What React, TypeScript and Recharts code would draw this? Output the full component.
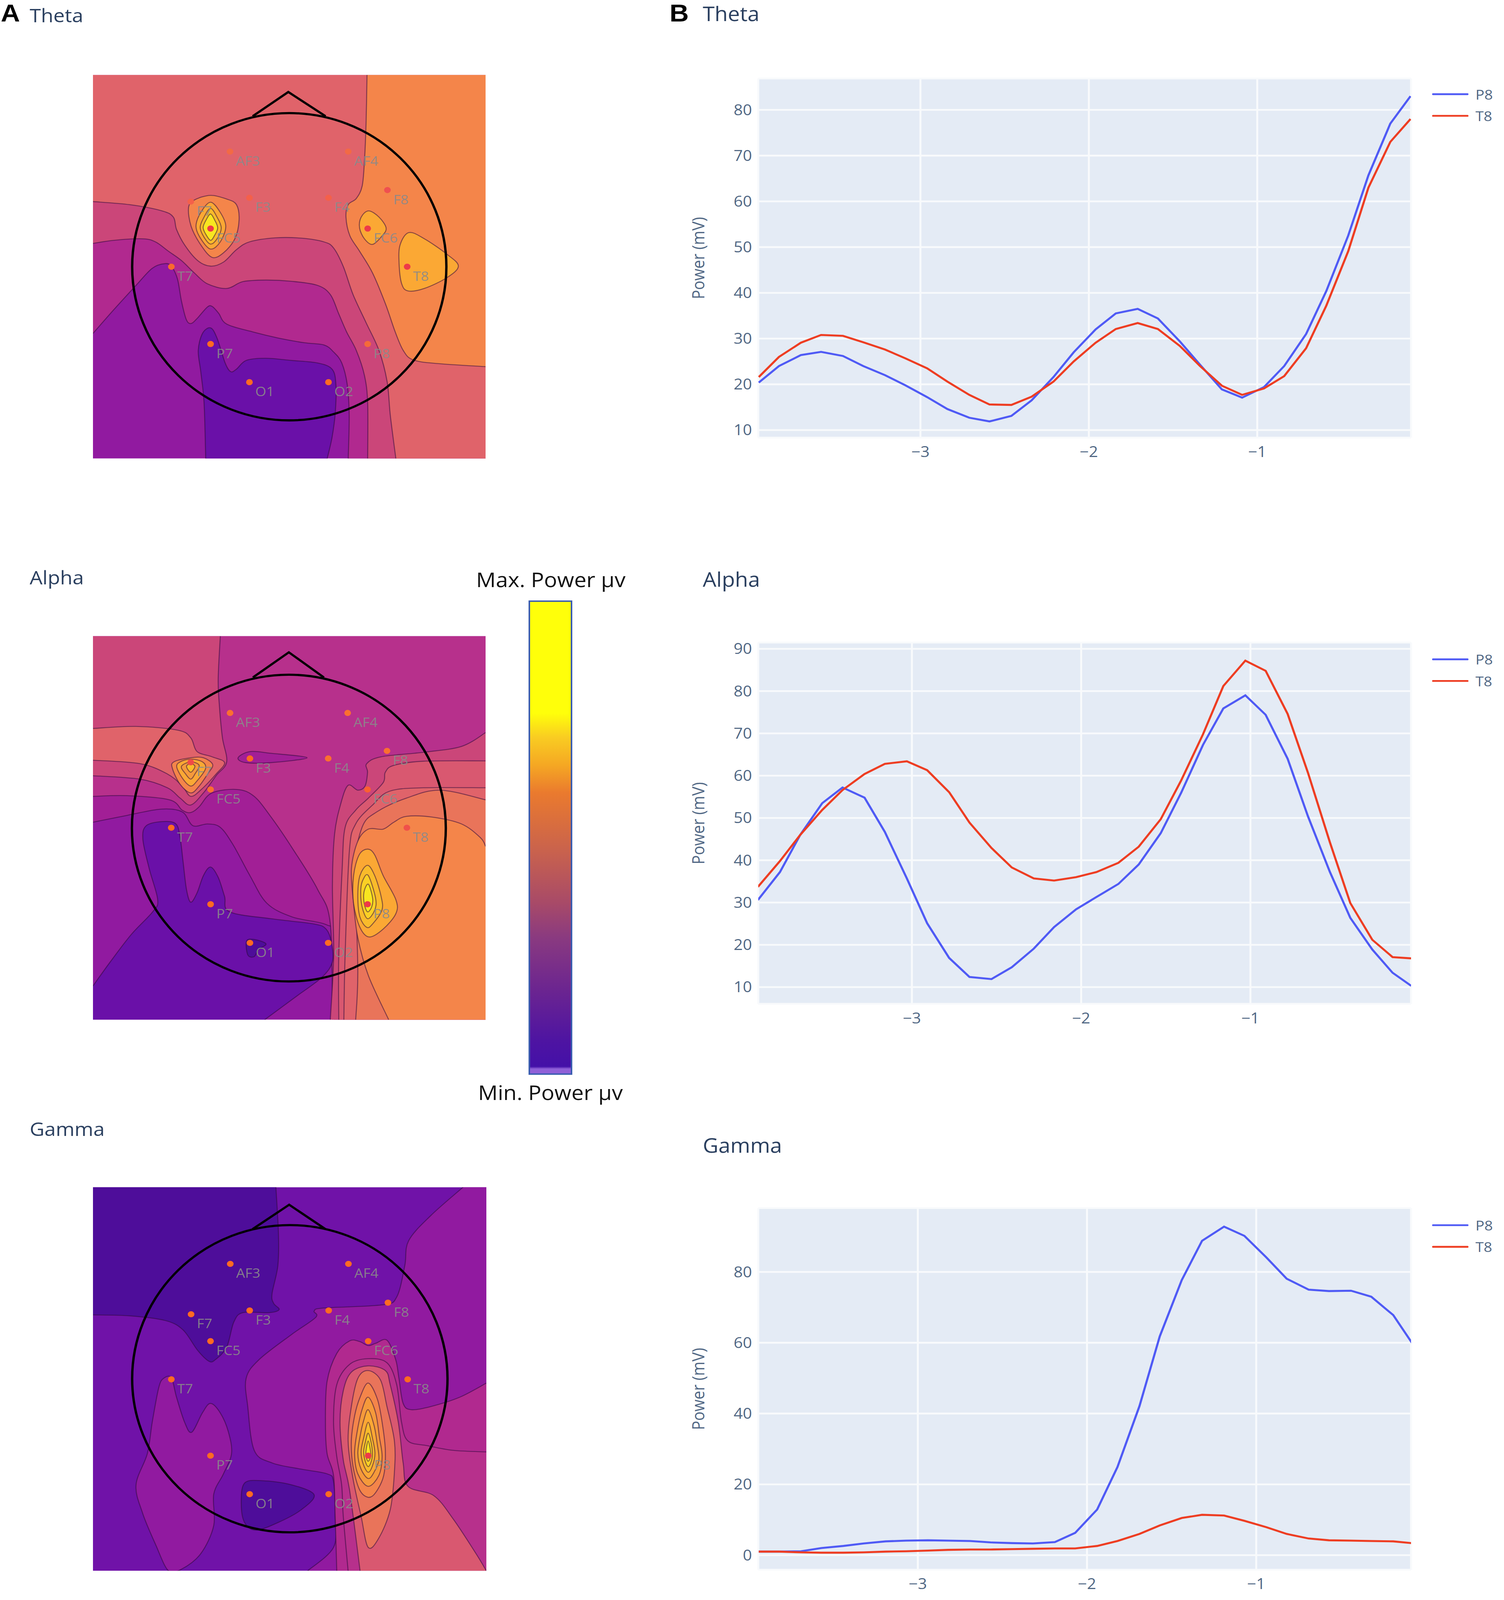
import React from 'react';
import { LineChart, Line, XAxis, YAxis, CartesianGrid, Legend, ScatterChart, Scatter } from 'recharts';

// ---------- line chart values ----------
const thetaTime = [-3.96,-3.84,-3.71,-3.59,-3.46,-3.34,-3.21,-3.09,-2.96,-2.84,-2.71,-2.59,-2.46,-2.34,-2.21,-2.09,-1.96,-1.84,-1.71,-1.59,-1.46,-1.34,-1.21,-1.09,-0.96,-0.84,-0.71,-0.59,-0.46,-0.34,-0.21,-0.09];
const thetaP8 = [20.4,24,26.4,27.1,26.2,24,22,19.8,17.2,14.6,12.7,11.9,13.1,16.5,21.6,27,32,35.5,36.5,34.4,29.4,24.3,18.9,17.1,19.4,24,31,40.4,52.5,65.7,77,83];
const thetaT8 = [21.6,26,29.1,30.8,30.6,29.2,27.6,25.7,23.5,20.6,17.7,15.6,15.5,17.3,20.6,25,29.1,32.1,33.4,32.1,28.4,24,19.7,17.7,19.1,21.8,27.9,37.2,49.1,63,73,78];
const alphaTime = [-3.91,-3.78,-3.66,-3.53,-3.41,-3.28,-3.16,-3.03,-2.91,-2.78,-2.66,-2.53,-2.41,-2.28,-2.16,-2.03,-1.91,-1.78,-1.66,-1.53,-1.41,-1.28,-1.16,-1.03,-0.91,-0.78,-0.66,-0.53,-0.41,-0.28,-0.16,-0.05];
const alphaP8 = [30.6,37.2,46,53.5,57.2,54.8,46.7,35.7,25.1,16.9,12.4,11.9,14.7,19.1,24.2,28.4,31.3,34.4,39,46.4,55.9,67.3,75.9,79,74.4,64,50.4,37.2,26.4,18.9,13.4,10.3];
const alphaT8 = [33.7,39.8,46,51.9,56.6,60.4,62.8,63.4,61.3,56.1,48.9,42.9,38.3,35.7,35.2,36,37.2,39.4,43.2,49.7,58.8,69.8,81.2,87.2,84.8,74.6,60.7,44.2,29.9,21.2,17.1,16.8];
const gammaTime = [-3.94,-3.82,-3.69,-3.57,-3.44,-3.32,-3.19,-3.07,-2.94,-2.82,-2.69,-2.57,-2.44,-2.32,-2.19,-2.07,-1.94,-1.82,-1.69,-1.57,-1.44,-1.32,-1.19,-1.07,-0.94,-0.82,-0.69,-0.57,-0.44,-0.32,-0.19,-0.08];
const gammaP8 = [1,1,1.1,2,2.6,3.3,3.9,4.1,4.2,4.1,4,3.6,3.4,3.3,3.7,6.3,12.9,24.9,42.1,61.8,77.7,88.8,92.8,90.2,84.1,78.1,75,74.6,74.7,73,67.8,60];
const gammaT8 = [1,1,0.8,0.7,0.7,0.8,1,1.1,1.3,1.5,1.6,1.6,1.7,1.8,1.9,1.9,2.6,4,6,8.4,10.5,11.4,11.2,9.7,7.9,6,4.7,4.2,4.1,4,3.9,3.4];

const thetaTicks = [10,20,30,40,50,60,70,80];
const alphaTicks = [10,20,30,40,50,60,70,80,90];
const gammaTicks = [0,20,40,60,80];
const timeTicks = [-3,-2,-1];

const toRows = (t: number[], p: number[], q: number[]) => t.map((time, i) => ({ time, P8: p[i], T8: q[i] }));

// ---------- map values ----------
const levelColors = ['#4e0d9a','#7012a8','#911aa0','#a21f96','#b1298f','#cb4679','#d95870','#e0636a','#e9745a','#f4854a','#f59a3b','#fba834','#f9bb2b','#fad025','#f8e620','#b7308c','#6a10a8'];

type P = [number, number];
type Contour = { level: number; line: P[]; close?: P[] };

const thetaBox = { x: [287, 1499], y: [242, 1478] };
const thetaContours: Contour[] = [
  { level: 2, line: [], close: [[287,242],[1499,242],[1499,1478],[287,1478]] },
  { level: 16, line: [[635,1478],[630,1300],[620,1200],[612,1130],[625,1075],[650,1057],[670,1090],[695,1170],[712,1198],[730,1190],[760,1162],[820,1155],[900,1162],[980,1170],[1025,1190],[1037,1240],[1035,1330],[1025,1410],[1010,1478]], close: [] },
  { level: 4, line: [[287,1075],[350,1000],[420,920],[470,865],[510,850],[530,860],[548,900],[560,970],[575,1030],[590,1043],[610,1025],[640,990],[655,988],[675,1010],[700,1045],[780,1070],[860,1090],[940,1105],[1000,1112],[1030,1135],[1055,1170],[1072,1240],[1078,1340],[1075,1478]], close: [[1499,1478],[1499,242],[287,242]] },
  { level: 5, line: [[287,785],[350,775],[440,770],[480,780],[520,810],[560,840],[600,880],[640,915],[700,930],[750,908],[820,903],[900,907],[980,920],[1020,950],[1045,1010],[1070,1070],[1100,1130],[1125,1210],[1135,1300],[1135,1478]], close: [[1499,1478],[1499,242],[287,242]] },
  { level: 7, line: [[287,650],[400,660],[500,680],[535,700],[545,740],[570,790],[610,840],[650,858],[690,845],[730,805],[770,780],[850,767],[930,768],[1000,780],[1030,800],[1060,860],[1090,950],[1130,1040],[1170,1130],[1195,1230],[1205,1340],[1222,1478]], close: [[1499,1478],[1499,242],[287,242]] },
  { level: 9, line: [[1133,242],[1130,400],[1125,520],[1118,600],[1100,640],[1075,660],[1068,700],[1080,760],[1110,810],[1150,880],[1190,980],[1220,1070],[1245,1130],[1275,1160],[1350,1172],[1499,1182]], close: [[1499,242]] },
  { level: 9, line: [[650,630],[700,642],[730,660],[738,710],[725,770],[690,815],[655,830],[620,790],[590,730],[582,670],[600,645]] },
  { level: 11, line: [[1138,680],[1170,700],[1192,735],[1180,760],[1150,788],[1125,770],[1110,735],[1115,700]] },
  { level: 11, line: [[1262,750],[1310,770],[1380,820],[1415,858],[1380,895],[1310,930],[1260,938],[1240,915],[1232,850],[1235,790]] },
  { level: 11, line: [[650,652],[680,685],[697,730],[680,780],[650,803],[620,770],[605,730],[620,685]] },
  { level: 12, line: [[650,672],[670,700],[683,735],[670,770],[650,787],[630,765],[618,733],[630,700]] },
  { level: 14, line: [[650,690],[663,710],[672,735],[662,760],[650,775],[635,755],[627,733],[637,708]] },
];

const alphaBox = { x: [219, 1147], y: [225, 1338] };
const alphaContours: Contour[] = [
  { level: 2, line: [], close: [[219,225],[1147,225],[1147,1338],[219,1338]] },
  { level: 3, line: [[219,765],[300,745],[380,727],[430,735],[455,775],[490,770],[520,780],[550,830],[590,920],[630,1000],[690,1040],[770,1062],[785,1100],[790,1338]], close: [[1147,1338],[1147,225],[219,225]] },
  { level: 15, line: [[219,690],[300,688],[400,700],[430,730],[450,737],[470,720],[500,680],[560,670],[600,690],[640,750],[690,840],[750,960],[780,1060],[785,1338]], close: [[1147,1338],[1147,225],[219,225]] },
  { level: 16, line: [[219,1240],[260,1170],[310,1090],[360,1025],[372,990],[352,900],[337,815],[345,775],[385,763],[415,770],[425,810],[432,880],[440,960],[450,997],[465,970],[480,920],[497,895],[515,925],[530,980],[542,1025],[640,1045],[740,1060],[770,1075],[783,1115],[785,1170],[760,1215],[700,1270],[625,1338]], close: [[219,1338]] },
  { level: 0, line: [[582,1110],[600,1105],[628,1118],[610,1135],[600,1155],[585,1150]] },
  { level: 3, line: [[562,578],[590,560],[640,565],[725,578],[640,592],[580,592]] },
  { level: 5, line: [[520,225],[515,350],[518,430],[525,520],[535,590],[510,630],[480,680],[450,715],[425,695],[395,665],[330,640],[219,630]], close: [[219,225]] },
  { level: 7, line: [[219,585],[330,595],[395,625],[430,660],[450,690],[475,670],[510,625],[530,592],[500,575],[465,560],[450,520],[420,498],[320,487],[219,493]], close: [] },
  { level: 9, line: [[450,578],[480,578],[502,598],[490,625],[470,660],[450,680],[425,655],[407,610],[410,590]] },
  { level: 11, line: [[450,582],[478,590],[485,610],[465,645],[450,660],[432,640],[417,605],[425,590]] },
  { level: 10, line: [[450,590],[470,600],[460,625],[450,640],[438,625],[428,603]] },
  { level: 12, line: [[450,595],[460,603],[450,620],[440,603]] },
  { level: 5, line: [[780,1338],[788,1150],[785,950],[790,800],[805,710],[822,658],[845,672],[862,660],[868,620],[866,595],[900,575],[1000,562],[1090,545],[1147,505]], close: [[1147,1338]] },
  { level: 6, line: [[800,1338],[800,1150],[808,900],[815,780],[840,730],[870,695],[905,650],[910,620],[930,600],[1000,588],[1147,587]], close: [[1147,1338]] },
  { level: 7, line: [[812,1338],[815,1150],[825,850],[840,770],[880,715],[920,675],[1000,665],[1147,665]], close: [[1147,1338]] },
  { level: 8, line: [[840,1338],[845,1200],[840,900],[855,780],[890,735],[960,695],[1040,672],[1147,700]], close: [[1147,1338]] },
  { level: 9, line: [[918,1338],[870,1210],[845,1100],[835,1000],[830,900],[845,820],[870,785],[905,785],[930,765],[960,748],[1020,750],[1090,770],[1135,810],[1147,835]], close: [[1147,1338]] },
  { level: 11, line: [[868,843],[885,860],[905,920],[935,990],[935,1030],[905,1075],[872,1098],[850,1070],[835,1000],[835,920],[848,860]] },
  { level: 12, line: [[868,890],[885,920],[900,980],[902,1020],[880,1060],[866,1070],[850,1040],[845,980],[850,920]] },
  { level: 13, line: [[870,920],[887,985],[885,1020],[868,1045],[855,1010],[852,960],[858,930]] },
  { level: 14, line: [[870,945],[880,985],[878,1010],[868,1025],[860,1000],[860,965]] },
];

const gammaBox = { x: [287, 1502], y: [249, 1475] };
const gammaContours: Contour[] = [
  { level: 1, line: [], close: [[287,249],[1502,249],[1502,1475],[287,1475]] },
  { level: 0, line: [[852,249],[860,400],[858,500],[840,590],[845,620],[862,640],[830,650],[750,650],[722,680],[700,760],[665,800],[645,805],[610,770],[565,705],[510,675],[400,660],[287,657]], close: [[287,249]] },
  { level: 0, line: [[755,1195],[810,1187],[900,1200],[970,1232],[930,1280],[860,1320],[790,1345],[755,1320],[745,1260]] },
  { level: 2, line: [[1430,249],[1330,340],[1262,420],[1250,500],[1225,600],[1180,625],[1000,635],[970,645],[975,665],[900,720],[800,800],[760,860],[765,950],[785,1090],[840,1130],[930,1150],[1010,1165],[1030,1190],[1035,1300],[1030,1400],[950,1475]], close: [[1502,1475],[1502,249]] },
  { level: 2, line: [[529,858],[505,860],[490,890],[470,1000],[455,1100],[420,1200],[440,1290],[480,1390],[520,1475],[560,1470],[620,1420],[660,1330],[660,1230],[690,1165],[715,1100],[705,1030],[680,970],[650,940],[625,970],[592,1032],[570,1000],[545,920]] },
  { level: 4, line: [[1502,875],[1420,920],[1330,950],[1270,960],[1245,940],[1232,860],[1222,800],[1195,738],[1160,748],[1137,755],[1110,742],[1080,740],[1040,780],[1010,870],[1005,1000],[1010,1100],[1030,1170],[1035,1300],[1040,1475]], close: [[1502,1475]] },
  { level: 15, line: [[1502,1095],[1400,1090],[1320,1075],[1260,1060],[1240,1000],[1225,880],[1195,810],[1137,797],[1080,815],[1040,880],[1030,1000],[1040,1110],[1055,1200],[1060,1300],[1075,1475]], close: [[1502,1475]] },
  { level: 6, line: [[1502,1475],[1470,1420],[1400,1310],[1340,1235],[1260,1205],[1245,1130],[1230,1000],[1205,880],[1190,835],[1137,820],[1085,840],[1060,900],[1050,1000],[1060,1120],[1080,1220],[1112,1475]], close: [] },
  { level: 8, line: [[1137,835],[1175,865],[1195,950],[1218,1060],[1218,1160],[1205,1280],[1170,1370],[1137,1400],[1115,1300],[1090,1180],[1075,1060],[1085,950],[1105,860]] },
  { level: 9, line: [[1137,875],[1165,925],[1180,1000],[1190,1090],[1185,1170],[1160,1225],[1137,1240],[1110,1215],[1090,1140],[1085,1060],[1095,980],[1112,920]] },
  { level: 10, line: [[1137,920],[1160,970],[1172,1050],[1180,1110],[1170,1170],[1137,1205],[1105,1165],[1095,1100],[1103,1030],[1118,960]] },
  { level: 11, line: [[1137,960],[1155,1010],[1165,1070],[1170,1120],[1155,1160],[1137,1180],[1115,1150],[1105,1100],[1113,1040],[1123,995]] },
  { level: 12, line: [[1137,1000],[1150,1050],[1158,1100],[1150,1140],[1137,1160],[1122,1135],[1115,1095],[1123,1050]] },
  { level: 13, line: [[1137,1035],[1147,1070],[1150,1105],[1145,1130],[1137,1142],[1128,1125],[1123,1095],[1128,1065]] },
  { level: 14, line: [[1137,1060],[1143,1085],[1145,1108],[1137,1125],[1130,1108],[1131,1085]] },
];

const electrodeNames = ['AF3','AF4','F7','F3','F4','F8','FC5','FC6','T7','T8','P7','P8','O1','O2'];
const thetaXY: P[] = [[710,489],[1075,489],[589,650],[770,638],[1014,638],[1196,613],[650,737],[1135,737],[529,860],[1257,860],[650,1109],[1135,1109],[770,1232],[1014,1232]];
const alphaXY: P[] = [[543,448],[821,448],[450,591],[590,580],[775,580],[914,558],[497,670],[868,670],[404,781],[961,781],[497,1003],[868,1003],[590,1115],[775,1115]];
const gammaXY: P[] = [[711,494],[1076,494],[590,655],[771,643],[1015,643],[1198,618],[650,741],[1137,741],[529,863],[1259,863],[650,1107],[1137,1107],[771,1230],[1015,1230]];
const thetaDots = ['#f26a45','#f26a45','#f4604a','#f4604a','#f4604a','#ef5050','#ee3a48','#ee3a48','#fb6a2c','#ee3a48','#ff6a22','#f56a38','#ff6a22','#ff6a22'];
const alphaDots = ['#fb6f30','#fb6f30','#f04a48','#ff6a22','#fb6f30','#fb6f30','#fb6f30','#fb6030','#ff6a22','#f0504a','#ff6a22','#ee3a48','#ff6a22','#ff6a22'];
const gammaDots = ['#ff6a22','#ff6a22','#ff6a22','#ff6a22','#ff6a22','#ff6a22','#ff6a22','#ff6a22','#ff6a22','#ff6a22','#ff6a22','#ee3a48','#ff6a22','#ff6a22'];

const thetaHead = { box: [[408,365],[1378,1355]] as P[], nose: [[780,375],[890,297],[1005,375]] as P[] };
const alphaHead = { box: [[311,337],[1053,1227]] as P[], nose: [[597,345],[682,272],[765,345]] as P[] };
const gammaHead = { box: [[408,370],[1382,1352]] as P[], nose: [[780,383],[893,305],[1005,383]] as P[] };

// ---------- drawing helpers ----------
const spline = (pts: any[], closed: boolean) => {
  const m = pts.length;
  let d = `M${pts[0].x},${pts[0].y}`;
  const segs = closed ? m : m - 1;
  for (let i = 0; i < segs; i++) {
    const p0 = pts[closed ? (i - 1 + m) % m : Math.max(i - 1, 0)];
    const p1 = pts[i];
    const p2 = pts[(i + 1) % m];
    const p3 = pts[closed ? (i + 2) % m : Math.min(i + 2, m - 1)];
    d += `C${p1.x + (p2.x - p0.x) / 6},${p1.y + (p2.y - p0.y) / 6} ${p2.x - (p3.x - p1.x) / 6},${p2.y - (p3.y - p1.y) / 6} ${p2.x},${p2.y}`;
  }
  return d;
};

const noDot = () => <g />;

const contourLine = (c: Contour) => (props: any) => {
  const n = c.line.length;
  const all = props.points;
  const fill = levelColors[c.level];
  if (n === 0) {
    return <path d={'M' + all.map((p: any) => `${p.x},${p.y}`).join('L') + 'Z'} fill={fill} stroke="none" />;
  }
  const closedIsland = c.close === undefined;
  const linePts = all.slice(0, n);
  const tail = all.slice(n);
  const d = spline(linePts, closedIsland);
  const fillD = closedIsland ? d + 'Z' : d + tail.map((p: any) => `L${p.x},${p.y}`).join('') + 'Z';
  return (
    <g>
      <path d={fillD} fill={fill} stroke="none" />
      <path d={closedIsland ? d + 'Z' : d} fill="none" stroke="rgba(45,10,60,0.55)" strokeWidth={2.5} />
    </g>
  );
};

const headEllipse = (props: any) => {
  const [a, b] = props.points;
  return <ellipse cx={(a.x + b.x) / 2} cy={(a.y + b.y) / 2} rx={Math.abs(b.x - a.x) / 2} ry={Math.abs(b.y - a.y) / 2} fill="none" stroke="#000" strokeWidth={6} />;
};
const nosePath = (props: any) => (
  <path d={'M' + props.points.map((p: any) => `${p.x},${p.y}`).join('L')} fill="none" stroke="#000" strokeWidth={6} />
);

const electrodeShape = (props: any) => {
  const { cx, cy, payload } = props;
  return (
    <g>
      <circle cx={cx} cy={cy} r={8.5} fill={payload.color} />
      <text x={cx + 15} y={cy + 39} fontFamily="'Open Sans'" fontSize={36} fill="#8a8a8a" fillOpacity={0.92}>{payload.name}</text>
    </g>
  );
};

const toXY = (pts: P[]) => pts.map(([x, y]) => ({ x, y }));

function TopoMap({ left, top, width, height, box, contours, xy, dots, head }: any) {
  const electrodes = electrodeNames.map((name, i) => ({ name, x: xy[i][0], y: xy[i][1], color: dots[i] }));
  return (
    <div style={{ position: 'absolute', left, top, width, height }}>
      <ScatterChart width={width} height={height} margin={{ top: 0, right: 0, bottom: 0, left: 0 }}>
        <XAxis type="number" dataKey="x" domain={box.x} hide allowDataOverflow />
        <YAxis type="number" dataKey="y" domain={box.y} reversed hide allowDataOverflow />
        {contours.map((c: Contour, i: number) => (
          <Scatter key={i} data={toXY([...c.line, ...(c.close || [])])} line={contourLine(c)} shape={noDot} isAnimationActive={false} />
        ))}
        <Scatter data={toXY(head.box)} line={headEllipse} shape={noDot} isAnimationActive={false} />
        <Scatter data={toXY(head.nose)} line={nosePath} shape={noDot} isAnimationActive={false} />
        <Scatter data={electrodes} shape={electrodeShape} isAnimationActive={false} />
      </ScatterChart>
    </div>
  );
}

const axisColor = '#506784';
const tickStyle = { fontFamily: "'Open Sans'", fontSize: 41, fill: axisColor };

const legendContent = (props: any) => (
  <div style={{ width: 184 }}>
    {props.payload.map((e: any) => (
      <div key={e.value} style={{ height: 60, display: 'flex', alignItems: 'center' }}>
        <div style={{ width: 93, height: 5, background: e.color, borderRadius: 2 }} />
        <span style={{ marginLeft: 18, fontFamily: "'Open Sans'", fontSize: 38, color: axisColor, lineHeight: '60px' }}>{e.value}</span>
      </div>
    ))}
  </div>
);

const yTitle = (props: any) => {
  const { viewBox } = props;
  const cy = viewBox.y + viewBox.height / 2;
  return (
    <text x={86} y={cy} transform={`rotate(-90 86 ${cy})`} textAnchor="middle" dominantBaseline="central" fontFamily="'Open Sans'" fontSize={43} fill={axisColor}>
      Power (mV)
    </text>
  );
};

function PowerChart({ plotTop, plotBottom, rows, xDomain, yDomain, yTicks, legendY }: any) {
  const wrapTop = plotTop - 20;
  const h = plotBottom - plotTop + 120;
  return (
    <div style={{ position: 'absolute', left: 1700, top: wrapTop, width: 2150, height: h }}>
      <LineChart width={2150} height={h} data={rows} margin={{ top: 20, right: 238, bottom: 0, left: 0 }}>
        <CartesianGrid fill="#e4ebf5" stroke="#f8fafc" strokeWidth={5} />
        <XAxis type="number" dataKey="time" domain={xDomain} ticks={timeTicks} allowDataOverflow axisLine={false} tickLine={false} tickSize={0} tickMargin={25} height={100} tick={tickStyle} interval={0} tickFormatter={(v: number) => String(v).replace('-', '\u2212')} />
        <YAxis type="number" domain={yDomain} ticks={yTicks} allowDataOverflow axisLine={false} tickLine={false} tickSize={0} tickMargin={16} width={241} tick={tickStyle} interval={0} label={yTitle} />
        <Line dataKey="P8" name="P8" type="linear" stroke="#4f5af5" strokeWidth={5.5} dot={false} isAnimationActive={false} />
        <Line dataKey="T8" name="T8" type="linear" stroke="#ee3d22" strokeWidth={5.5} dot={false} isAnimationActive={false} />
        <Legend layout="vertical" align="center" verticalAlign="middle" content={legendContent} wrapperStyle={{ left: 1966, top: legendY - wrapTop - 30, width: 184, height: 120, right: 'auto', bottom: 'auto' }} />
      </LineChart>
    </div>
  );
}

const titleFill = '#2a3f5f';
// The browser window is really 3850x4096, so the 4442-tall layout is fitted to it.
const visibleHeight = 4096;
const layoutHeight = 4442;

export default function App() {
  return (
    <div style={{ position: 'absolute', left: 0, top: 0, width: 3850, height: visibleHeight, overflow: 'hidden', background: '#fff' }}>
      <div style={{ position: 'absolute', left: 0, top: 0, width: 3850, height: layoutHeight, background: '#fff', transformOrigin: '0 0', transform: `scale(1, ${visibleHeight / layoutHeight})` }}>
        <TopoMap left={238} top={208} width={1005} height={1065} box={thetaBox} contours={thetaContours} xy={thetaXY} dots={thetaDots} head={thetaHead} />
        <TopoMap left={238} top={1766} width={1005} height={1065} box={alphaBox} contours={alphaContours} xy={alphaXY} dots={alphaDots} head={alphaHead} />
        <TopoMap left={238} top={3296} width={1007} height={1065} box={gammaBox} contours={gammaContours} xy={gammaXY} dots={gammaDots} head={gammaHead} />

        <PowerChart plotTop={218} plotBottom={1215} rows={toRows(thetaTime, thetaP8, thetaT8)} xDomain={[-3.963, -0.087]} yDomain={[8.35, 86.85]} yTicks={thetaTicks} legendY={261} />
        <PowerChart plotTop={1784} plotBottom={2787} rows={toRows(alphaTime, alphaP8, alphaT8)} xDomain={[-3.908, -0.051]} yDomain={[6.04, 91.47]} yTicks={alphaTicks} legendY={1830} />
        <PowerChart plotTop={3354} plotBottom={4358} rows={toRows(gammaTime, gammaP8, gammaT8)} xDomain={[-3.943, -0.085]} yDomain={[-4.12, 98.03]} yTicks={gammaTicks} legendY={3401} />

        <svg width={3850} height={4442} style={{ position: 'absolute', left: 0, top: 0, pointerEvents: 'none' }}>
          <defs>
            <linearGradient id="powerScale" x1="0" y1="0" x2="0" y2="1">
              <stop offset="0" stopColor="#ffff0a" />
              <stop offset="0.237" stopColor="#ffff0a" />
              <stop offset="0.288" stopColor="#f9cc22" />
              <stop offset="0.346" stopColor="#f5a823" />
              <stop offset="0.405" stopColor="#ea7a2e" />
              <stop offset="0.528" stopColor="#c9624d" />
              <stop offset="0.638" stopColor="#a84a68" />
              <stop offset="0.711" stopColor="#8a3a80" />
              <stop offset="0.82" stopColor="#6c2590" />
              <stop offset="0.929" stopColor="#4e14a2" />
              <stop offset="0.984" stopColor="#4410a8" />
              <stop offset="0.989" stopColor="#9060d8" />
              <stop offset="1" stopColor="#9060d8" />
            </linearGradient>
          </defs>
          <rect x={1355} y={1669} width={108} height={1313} fill="url(#powerScale)" stroke="#3a5db0" strokeWidth={4} />
          <text x={1410} y={1630} textAnchor="middle" fontFamily="'Open Sans'" fontWeight={500} fontSize={56} fill="#111">Max. Power µv</text>
          <text x={1409} y={3054} textAnchor="middle" fontFamily="'Open Sans'" fontWeight={500} fontSize={56} fill="#111">Min. Power µv</text>

          <text x={2} y={60} fontFamily="'Liberation Sans'" fontWeight={700} fontSize={68} fill="#000">A</text>
          <text x={1714} y={60} fontFamily="'Liberation Sans'" fontWeight={700} fontSize={68} fill="#000">B</text>

          <text x={76} y={62} fontFamily="'Open Sans'" fontSize={52} fill={titleFill}>Theta</text>
          <text x={76} y={1622} fontFamily="'Open Sans'" fontSize={52} fill={titleFill}>Alpha</text>
          <text x={76} y={3154} fontFamily="'Open Sans'" fontSize={52} fill={titleFill}>Gamma</text>
          <text x={1799} y={59} fontFamily="'Open Sans'" fontSize={55} fill={titleFill}>Theta</text>
          <text x={1799} y={1629} fontFamily="'Open Sans'" fontSize={55} fill={titleFill}>Alpha</text>
          <text x={1799} y={3200} fontFamily="'Open Sans'" fontSize={55} fill={titleFill}>Gamma</text>
        </svg>
      </div>
    </div>
  );
}
